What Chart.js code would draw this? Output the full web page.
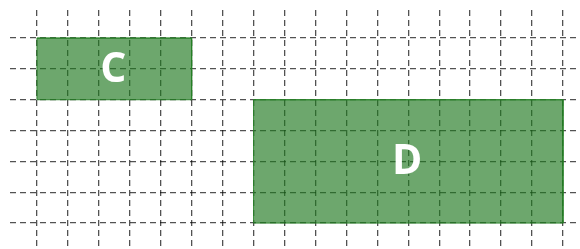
<!DOCTYPE html>
<html>
<head>
<meta charset="utf-8">
<script src="https://cdn.jsdelivr.net/npm/chart.js@4"></script>
<style>
  html, body { margin: 0; padding: 0; background: #fff; }
  canvas { display: block; }
</style>
</head>
<body>
<canvas id="chart" width="580" height="249"></canvas>
<script>
// rectangles, in grid units
const labels = ["C", "D"];
const xStart = [0, 7];
const xEnd = [5, 17];
const yStart = [4, 0];
const yEnd = [6, 4];

const xMin = -0.87, xMax = 17.55;
const yMin = -0.84, yMax = 6.91;

const fillColor = "rgba(30, 120, 30, 0.65)";
const edgeColor = "rgba(40, 130, 40, 0.9)";
const gridColor = "rgba(0, 0, 0, 0.68)";

// filled top edge down to the bottom value -> a rectangle
const fills = labels.map((name, i) => ({
	label: name,
	data: [
		{ x: xStart[i], y: yEnd[i] },
		{ x: xEnd[i], y: yEnd[i] },
	],
	showLine: true,
	fill: { value: yStart[i] },
	backgroundColor: fillColor,
	borderColor: edgeColor,
	borderWidth: 1,
	pointRadius: 0,
}));

// thin outline round each rectangle
const outlines = labels.map((name, i) => ({
	label: name + " edge",
	data: [
		{ x: xStart[i], y: yStart[i] },
		{ x: xStart[i], y: yEnd[i] },
		{ x: xEnd[i], y: yEnd[i] },
		{ x: xEnd[i], y: yStart[i] },
		{ x: xStart[i], y: yStart[i] },
	],
	showLine: true,
	fill: false,
	borderColor: edgeColor,
	borderWidth: 1,
	pointRadius: 0,
}));

// write the letter in the middle of each rectangle
const boxLabels = {
	id: "boxLabels",
	afterDatasetsDraw(chart) {
		const { ctx, scales } = chart;
		ctx.save();
		ctx.fillStyle = "#ffffff";
		ctx.font = "bold 41px 'Open Sans', sans-serif";
		ctx.textAlign = "center";
		ctx.textBaseline = "middle";
		labels.forEach((name, i) => {
			const cx = scales.x.getPixelForValue((xStart[i] + xEnd[i]) / 2);
			const cy = scales.y.getPixelForValue((yStart[i] + yEnd[i]) / 2);
			ctx.fillText(name, cx - 1, cy + 1);
		});
		ctx.restore();
	},
};

const gridAxis = (min, max) => ({
	type: "linear",
	min,
	max,
	ticks: { display: false, stepSize: 1, includeBounds: false },
	grid: {
		color: gridColor,
		lineWidth: 1.3,
		drawTicks: false,
	},
	border: { display: false, dash: [6, 4] },
});

new Chart(document.getElementById("chart"), {
	type: "scatter",
	data: { datasets: [...fills, ...outlines] },
	options: {
		responsive: false,
		animation: false,
		layout: { padding: { left: 10, top: 10, right: 0, bottom: 0 } },
		plugins: {
			legend: { display: false },
			tooltip: { enabled: false },
		},
		scales: {
			x: gridAxis(xMin, xMax),
			y: gridAxis(yMin, yMax),
		},
	},
	plugins: [boxLabels],
});
</script>
</body>
</html>
